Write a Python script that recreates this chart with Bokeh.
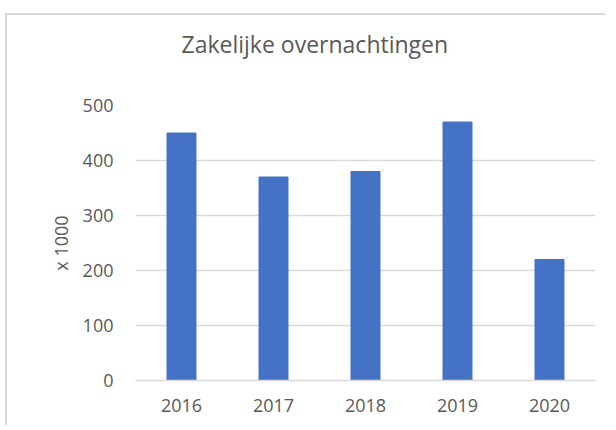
from bokeh.plotting import figure
from bokeh.models import Title, FixedTicker, Range1d
from bokeh.embed import file_html
from bokeh.resources import INLINE

years = ["2016", "2017", "2018", "2019", "2020"]
values = [450, 370, 380, 470, 220]
y_ticks = [0, 100, 200, 300, 400, 500]

positions = list(range(len(years)))

FONT = "Open Sans"
GREY = "#595959"

p = figure(width=600, height=412, output_backend="svg", toolbar_location=None,
           x_range=Range1d(-0.5, 4.5), y_range=Range1d(0, 500),
           min_border_left=128, min_border_right=12, min_border_top=90, min_border_bottom=47)
p.styles = {"border-top": "2px solid #d9d9d9", "border-left": "2px solid #d9d9d9",
            "margin-top": "13px", "margin-left": "5px"}

p.vbar(x=positions, top=values, width=0.315, color="#4472C4")

spacer = Title(text=" ", text_font_size="1px", standoff=38)
p.add_layout(spacer, "above")
t = Title(text="Zakelijke overnachtingen", text_font=FONT, text_font_size="23px",
          text_color=GREY, text_font_style="normal", align="left", offset=46)
p.add_layout(t, "above")

p.outline_line_color = None
p.xgrid.grid_line_color = None
p.ygrid.grid_line_color = "#d9d9d9"
p.ygrid.grid_line_width = 1.5
p.yaxis.ticker = FixedTicker(ticks=y_ticks)
p.xaxis.ticker = FixedTicker(ticks=positions)
p.xaxis.major_label_overrides = {i: y for i, y in enumerate(years)}

for ax in (p.xaxis, p.yaxis):
    ax.major_tick_line_color = None
    ax.minor_tick_line_color = None
    ax.major_label_text_font = FONT
    ax.major_label_text_font_size = "18px"
    ax.major_label_text_color = GREY
p.yaxis.axis_line_color = None
p.xaxis.axis_line_color = "#d9d9d9"
p.xaxis.axis_line_width = 1.5
p.yaxis.major_label_standoff = 16
p.xaxis.major_label_standoff = 12
p.yaxis.axis_label = "x 1000"
p.yaxis.axis_label_text_font = FONT
p.yaxis.axis_label_text_font_size = "18px"
p.yaxis.axis_label_text_font_style = "normal"
p.yaxis.axis_label_text_color = GREY
p.yaxis.axis_label_standoff = 7

open("out.html", "w").write(file_html(p, INLINE))
